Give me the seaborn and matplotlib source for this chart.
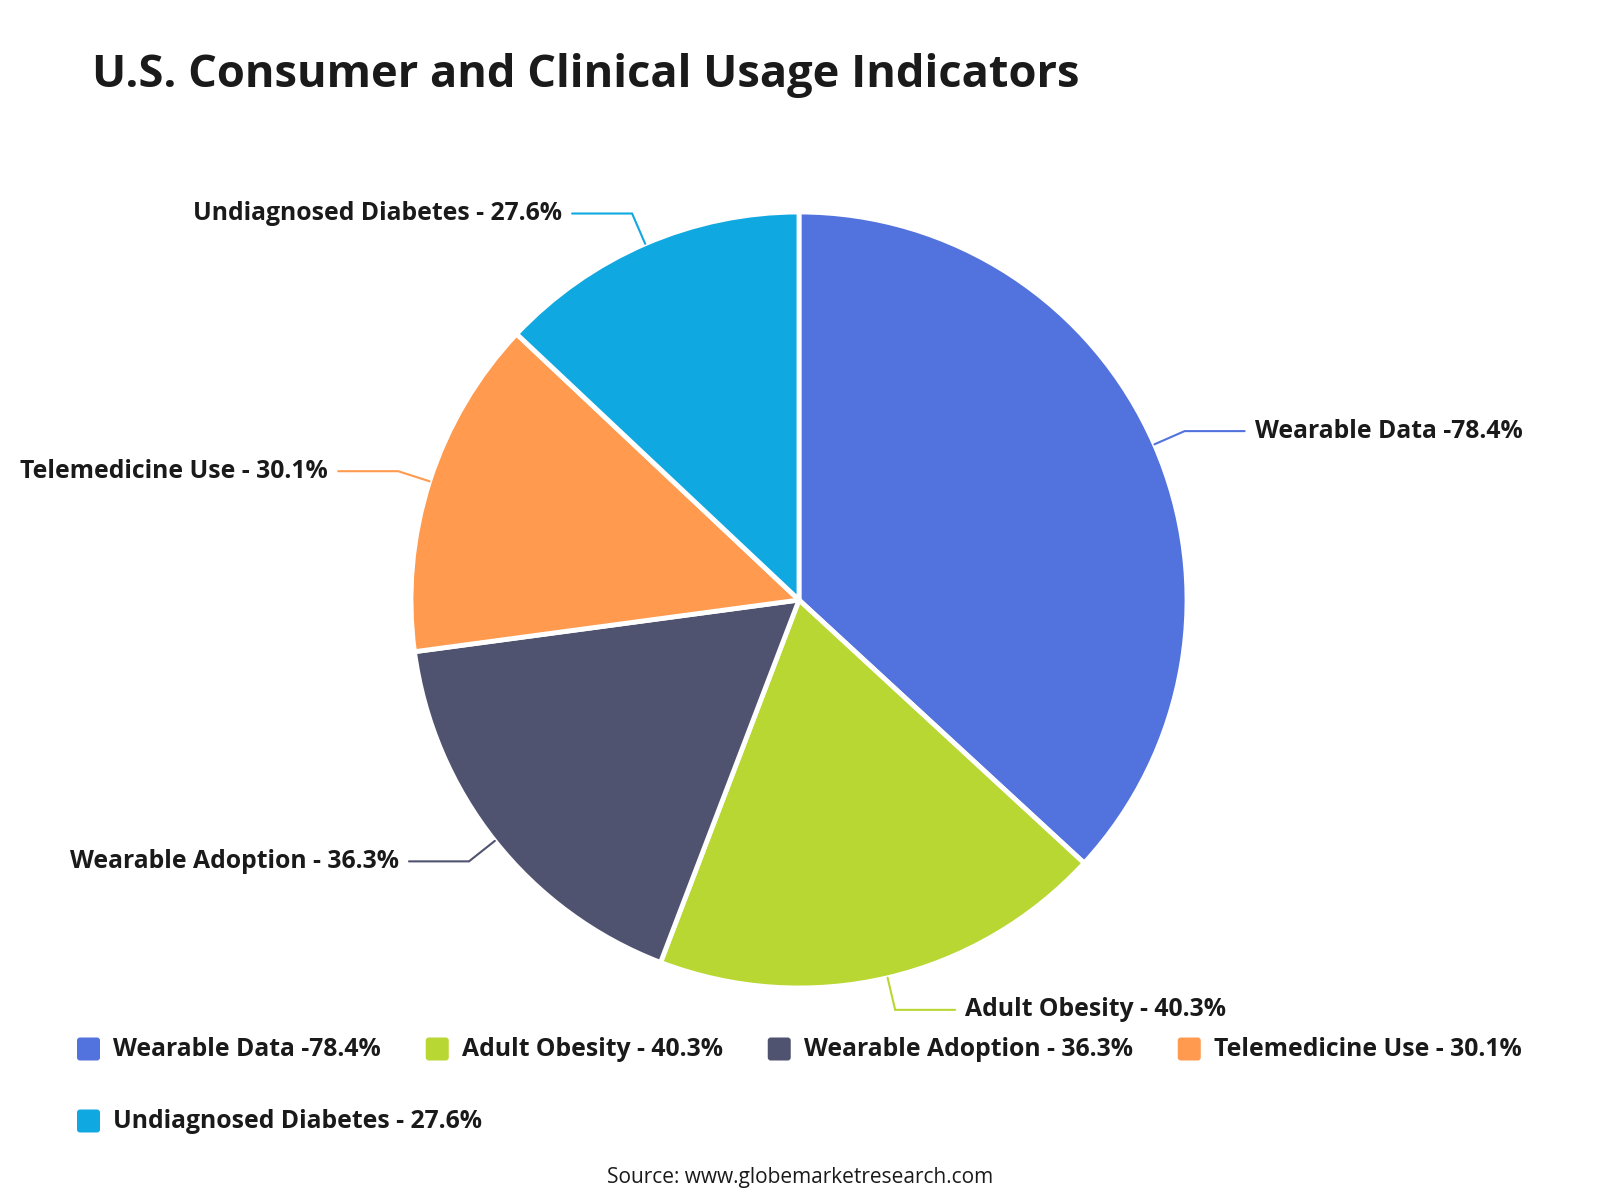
import matplotlib
matplotlib.use("Agg")
import matplotlib.pyplot as plt
from matplotlib.patches import FancyBboxPatch
import numpy as np
import seaborn as sns

categories = ["Wearable Data", "Adult Obesity", "Wearable Adoption",
              "Telemedicine Use", "Undiagnosed Diabetes"]
values = [78.4, 40.3, 36.3, 30.1, 27.6]
labels = ["Wearable Data -78.4%", "Adult Obesity - 40.3%", "Wearable Adoption - 36.3%",
          "Telemedicine Use - 30.1%", "Undiagnosed Diabetes - 27.6%"]
colors = ["#5272DD", "#B8D733", "#505370", "#FF9A4F", "#10A8E0"]

sns.set_theme(style="white")
plt.rcParams['font.family'] = ['Open Sans', 'DejaVu Sans']
txt_color = "#1a1a1a"

W, H = 1600, 1200
fig = plt.figure(figsize=(16, 12), dpi=100)
ax = fig.add_axes([0, 0, 1, 1])

# pie in pixel coordinates (y up)
cx, cy, R = 799, 600, 388
wedges, _ = ax.pie(values, colors=colors, startangle=90, counterclock=False,
                   center=(cx, cy), radius=R,
                   wedgeprops=dict(edgecolor="white", linewidth=3.5, joinstyle="round"))
ax.set_xlim(0, W)
ax.set_ylim(0, H)
ax.set_aspect("equal")
ax.axis("off")

# leader lines + labels
for w, lab, col in zip(wedges, labels, colors):
    th = np.deg2rad((w.theta1 + w.theta2) / 2)
    c, s = np.cos(th), np.sin(th)
    x0, y0 = cx + R * c, cy + R * s
    x1, y1 = cx + 1.085 * R * c, cy + 1.085 * R * s
    sg = 1 if c >= 0 else -1
    x2 = x1 + sg * 60
    ax.plot([x0, x1, x2], [y0, y1, y1], color=col, lw=1.5, solid_joinstyle="miter")
    ax.text(x2 + sg * 10, y1, lab, ha="left" if sg > 0 else "right", va="center",
            fontsize=17.8, fontweight="bold", color=txt_color)

# title
fig.text(92 / W, 1 - 87 / H, "U.S. Consumer and Clinical Usage Indicators",
         fontsize=32.6, fontweight="bold", color=txt_color, va="baseline", ha="left")

# legend (flow layout)
fig.canvas.draw()
renderer = fig.canvas.get_renderer()
x, y = 77, H - 1049
msize, mgap, igap = 23, 13, 45
for lab, col in zip(labels, colors):
    t = ax.text(0, 0, lab, fontsize=17.8, fontweight="bold", color=txt_color, va="center")
    tw = t.get_window_extent(renderer).width
    if x + msize + mgap + tw > W - 40:
        x = 77
        y -= 72
    t.set_position((x + msize + mgap, y))
    ax.add_patch(FancyBboxPatch((x + 3, y - msize / 2 + 3), msize - 6, msize - 6,
                                boxstyle="round,pad=3", fc=col, ec="none"))
    x += msize + mgap + tw + igap

fig.text(0.5, 1 - 1177 / H, "Source: www.globemarketresearch.com", ha="center", va="center",
         fontsize=15, color=txt_color)

fig.savefig("out.png", dpi=100, facecolor="white")
